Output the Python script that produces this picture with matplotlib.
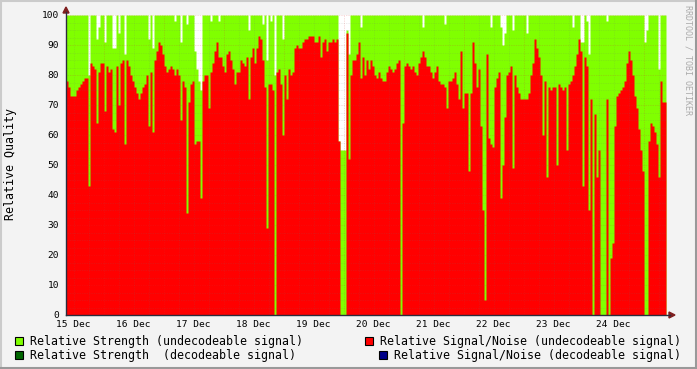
import numpy as np
import matplotlib.pyplot as plt
from matplotlib.patches import Rectangle, Polygon
from matplotlib.lines import Line2D

W, H = 697, 369

# Relative Signal/Noise (undecodeable signal), one value per 48 minutes
sn_undecodeable = [
    78, 76, 73, 73, 73, 75, 76, 77, 78, 79,
    79, 43, 84, 83, 82, 64, 81, 84, 84, 68,
    83, 81, 82, 62, 61, 83, 70, 84, 85, 57,
    85, 83, 80, 78, 76, 74, 72, 74,
    76, 77, 80, 63, 81, 61, 85, 88, 91, 90,
    87, 83, 81, 82, 83, 82, 80, 82, 80, 65,
    78, 76, 34, 71, 77, 78, 57, 58, 58, 39,
    78, 80, 80, 69, 81, 84, 88, 91,
    86, 86, 83, 81, 87, 88, 85, 82, 77, 81,
    81, 85, 84, 83, 86, 72, 86, 89, 84, 89,
    93, 92, 85, 76, 29, 77, 77, 75, 0, 81,
    82, 77, 60, 80, 72, 82, 80, 81,
    89, 90, 89, 89, 91, 92, 92, 93, 93, 93,
    91, 91, 93, 86, 91, 92, 88, 91, 91, 92,
    91, 92, 58, 0, 0, 0, 94, 52, 80, 85,
    85, 87, 91, 79, 86, 80, 85, 82,
    85, 83, 80, 79, 81, 79, 78, 78, 81, 83,
    82, 81, 82, 84, 85, 0, 64, 83, 84, 83,
    82, 83, 81, 80, 84, 86, 88, 86, 83, 83,
    81, 79, 81, 83, 78, 77, 77, 76,
    69, 78, 78, 79, 81, 77, 72, 88, 69, 74,
    74, 48, 74, 91, 84, 76, 82, 63, 35, 5,
    87, 59, 57, 56, 76, 79, 81, 39, 50, 66,
    80, 81, 83, 49, 80, 76, 74, 72,
    72, 72, 72, 74, 80, 84, 92, 89, 86, 80,
    60, 78, 46, 76, 75, 76, 76, 50, 77, 76,
    75, 76, 55, 77, 78, 80, 83, 87, 92,
    88, 43, 86, 83, 35, 72, 0, 67, 46, 55,
    0, 0, 0, 72, 0, 19, 24, 63, 73, 74,
    75, 76, 78, 84, 88, 85, 80, 73, 69, 62,
    55, 48, 0, 0, 58, 64, 63, 61, 57, 46,
    78, 71, 71,
]

# Relative Strength (undecodeable signal): 100 except at these samples
strength_dip_idx = [11, 15, 16, 19, 23, 24, 26, 29, 41, 43,
                    54, 57, 60, 64, 65, 66, 67, 72, 76, 91,
                    98, 100, 102, 104, 108, 136, 137, 138, 139, 140,
                    141, 147, 178, 189, 212, 217, 218, 219, 223, 230,
                    253, 257, 258, 260, 261, 270, 289, 290, 296]
strength_dip_val = [80, 92, 96, 91, 89, 89, 94, 87, 92, 89,
                    98, 91, 97, 88, 82, 78, 75, 98, 98, 95,
                    97, 85, 98, 80, 92, 58, 55, 55, 55, 95,
                    87, 96, 96, 97, 96, 96, 90, 94, 95, 94,
                    96, 91, 91, 98, 87, 98, 91, 95, 82]

day_labels = ['15 Dec', '16 Dec', '17 Dec', '18 Dec', '19 Dec',
              '20 Dec', '21 Dec', '22 Dec', '23 Dec', '24 Dec']

legend_left = ['Relative Strength (undecodeable signal)',
               'Relative Strength  (decodeable signal)']
legend_right = ['Relative Signal/Noise (undecodeable signal)',
                'Relative Signal/Noise (decodeable signal)']

GREEN = '#80FF00'
RED = '#FF0000'
DKGREEN = '#006600'
BLUE = '#000088'
MONO = 'DejaVu Sans Mono'

step_h = 0.8  # hours per sample
n = len(sn_undecodeable)
sn = np.array(sn_undecodeable, dtype=float)
strength = np.full(n, 100.0)
strength[strength_dip_idx] = strength_dip_val


def fx(px):
    return px / W


def fy(py):
    return 1 - py / H


fig = plt.figure(figsize=(W / 100, H / 100), dpi=100)
fig.patch.set_facecolor('#F3F3F3')

ax = fig.add_axes([fx(66), fy(315), 600 / W, 300 / H])
ax.set_facecolor('white')

edges = np.arange(n + 1) * step_h
ax.fill_between(edges, np.append(strength, strength[-1]), step='post',
                color=GREEN, lw=0, zorder=1)
ax.fill_between(edges, np.append(sn, sn[-1]), step='post',
                color=RED, lw=0, zorder=2)

ax.set_xlim(0, n * step_h)
ax.set_ylim(0, 100)

# grid (drawn over the data like rrdtool)
dots = (0, (1, 1.5))
minor_col = (0.45, 0.45, 0.45, 0.25)
major_col = (0.85, 0.2, 0.2, 0.35)
for y in np.arange(2.5, 100, 2.5):
    if y % 10:
        ax.axhline(y, color=minor_col, lw=0.5, ls=dots, zorder=3)
for y in np.arange(10, 101, 10):
    ax.axhline(y, color=major_col, lw=0.5, ls=dots, zorder=3)
for x in np.arange(3, 240, 6):
    if (x - 15) % 24:
        ax.axvline(x, color=minor_col, lw=0.5, ls=dots, zorder=3)
for x in np.arange(15, 240, 24):
    ax.axvline(x, color=major_col, lw=0.5, ls=dots, zorder=3)

for s in ax.spines.values():
    s.set_visible(False)

ax.set_xticks(np.arange(3, 240, 24))
ax.set_xticklabels(day_labels, family=MONO, fontsize=6.8)
ax.set_yticks(np.arange(0, 101, 10))
ax.set_yticklabels([str(v) for v in range(0, 101, 10)], family=MONO, fontsize=6.8)
ax.tick_params(axis='x', length=0, pad=3.5)
ax.tick_params(axis='y', length=0, pad=5)

# axes with arrows
axis_col = '#2C2C3C'
arrow_col = '#7F1F1F'
fig.add_artist(Line2D([fx(66), fx(670)], [fy(315), fy(315)], color=axis_col,
                      lw=1, transform=fig.transFigure))
fig.add_artist(Line2D([fx(66), fx(66)], [fy(315), fy(12)], color=axis_col,
                      lw=1, transform=fig.transFigure))
fig.add_artist(Polygon([[fx(669), fy(312)], [fx(675), fy(315)], [fx(669), fy(318)]],
                       closed=True, color=arrow_col, transform=fig.transFigure))
fig.add_artist(Polygon([[fx(63), fy(13)], [fx(66), fy(7)], [fx(69), fy(13)]],
                       closed=True, color=arrow_col, transform=fig.transFigure))

fig.text(fx(11), fy(164), 'Relative Quality', rotation=90, ha='center',
         va='center', family=MONO, fontsize=8.4)
fig.text(fx(688), fy(60), 'RRDTOOL / TOBI OETIKER', rotation=270, ha='center',
         va='center', family=MONO, fontsize=6, color='#ABABAB')

# legend
rows = [341, 355]
legend_items = [
    (15, rows[0], GREEN, legend_left[0]),
    (15, rows[1], DKGREEN, legend_left[1]),
    (365, rows[0], RED, legend_right[0]),
    (379, rows[1], BLUE, legend_right[1]),
]
for px, py, col, label in legend_items:
    fig.add_artist(Rectangle((fx(px), fy(py + 4)), 8 / W, 8 / H, facecolor=col,
                             edgecolor='black', lw=0.8, transform=fig.transFigure))
    fig.text(fx(px + 15), fy(py), label, ha='left', va='center',
             family=MONO, fontsize=8.4)

# frame
fig.add_artist(Line2D([0, 1], [fy(0.5), fy(0.5)], color='#CBCBCB', lw=1.5,
                      transform=fig.transFigure))
fig.add_artist(Line2D([fx(0.5), fx(0.5)], [0, 1], color='#CBCBCB', lw=1.5,
                      transform=fig.transFigure))
fig.add_artist(Line2D([0, 1], [fy(368), fy(368)], color='#999999', lw=1.5,
                      transform=fig.transFigure))
fig.add_artist(Line2D([fx(696), fx(696)], [0, 1], color='#999999', lw=1.5,
                      transform=fig.transFigure))

fig.savefig('out.png', dpi=100, facecolor=fig.get_facecolor())
